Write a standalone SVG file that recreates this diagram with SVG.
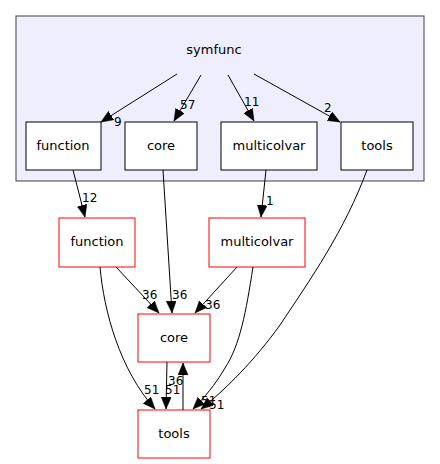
<svg xmlns="http://www.w3.org/2000/svg" width="440" height="464" viewBox="0 0 440 464">
<style>
text{font-family:"DejaVu Sans",sans-serif;fill:#000}
.n{font-size:13px;text-anchor:middle}
.l{font-size:12px}
.in{fill:#fff;stroke:#000;stroke-width:1}
.out{fill:#fff;stroke:#ff0000;stroke-width:1}
.e{fill:none;stroke:#000;stroke-width:1;marker-end:url(#ah)}
</style>
<defs>
<marker id="ah" markerUnits="userSpaceOnUse" markerWidth="14" markerHeight="12" refX="12" refY="5" orient="auto">
<path d="M0,0 L12,5 L0,10 Z" fill="#000" stroke="#000" stroke-width="0.5"/>
</marker>
</defs>
<g id="cluster_symfunc">
<rect x="16" y="16" width="408" height="165" fill="#eeeeff" stroke="#404040"/>
<text class="n" x="214" y="54">symfunc</text>
</g>
<g id="node_function_in"><rect class="in" x="26" y="122" width="75" height="48"/><text class="n" x="63" y="150">function</text></g>
<g id="node_core_in"><rect class="in" x="125" y="122" width="72" height="48"/><text class="n" x="161" y="150">core</text></g>
<g id="node_multicolvar_in"><rect class="in" x="221" y="122" width="96" height="48"/><text class="n" x="269" y="150">multicolvar</text></g>
<g id="node_tools_in"><rect class="in" x="341" y="122" width="72" height="48"/><text class="n" x="377" y="150">tools</text></g>
<g id="node_function"><rect class="out" x="59" y="218" width="76" height="49"/><text class="n" x="97" y="246">function</text></g>
<g id="node_multicolvar"><rect class="out" x="209" y="218" width="96" height="49"/><text class="n" x="257" y="246">multicolvar</text></g>
<g id="node_core"><rect class="out" x="138" y="314" width="72" height="48"/><text class="n" x="174" y="342">core</text></g>
<g id="node_tools"><rect class="out" x="138" y="410" width="72" height="48"/><text class="n" x="174" y="438">tools</text></g>
<g id="edges">
<path class="e" d="M177,74 L101,122"/>
<text class="l" x="114" y="126">9</text>
<path class="e" d="M201,75 L174,121"/>
<text class="l" x="180" y="109">57</text>
<path class="e" d="M228,75 L254,121"/>
<text class="l" x="244" y="106">11</text>
<path class="e" d="M254,74 L340,122"/>
<text class="l" x="324" y="112">2</text>
<path class="e" d="M73,170 L85,217"/>
<text class="l" x="82" y="202">12</text>
<path class="e" d="M163,170 L172,313"/>
<text class="l" x="172" y="299">36</text>
<path class="e" d="M266,170 L261,217"/>
<text class="l" x="266" y="205">1</text>
<path class="e" d="M367,170 C345,230 310,280 280,325 C255,360 225,390 201,409"/>
<text class="l" x="209" y="409">51</text>
<path class="e" d="M116,267 L159,313"/>
<text class="l" x="142" y="299">36</text>
<path class="e" d="M100,267 C104,312 120,370 155,409"/>
<text class="l" x="144" y="394">51</text>
<path class="e" d="M237,267 L195,313"/>
<text class="l" x="205" y="309">36</text>
<path class="e" d="M253,267 C246,312 240,345 225,368 C215,385 204,398 193,409"/>
<text class="l" x="201" y="405">51</text>
<path class="e" d="M167,362 L166,409"/>
<text class="l" x="165" y="394">51</text>
<path class="e" d="M183,410 L183,363"/>
<text class="l" x="168" y="385">36</text>
</g>
</svg>
